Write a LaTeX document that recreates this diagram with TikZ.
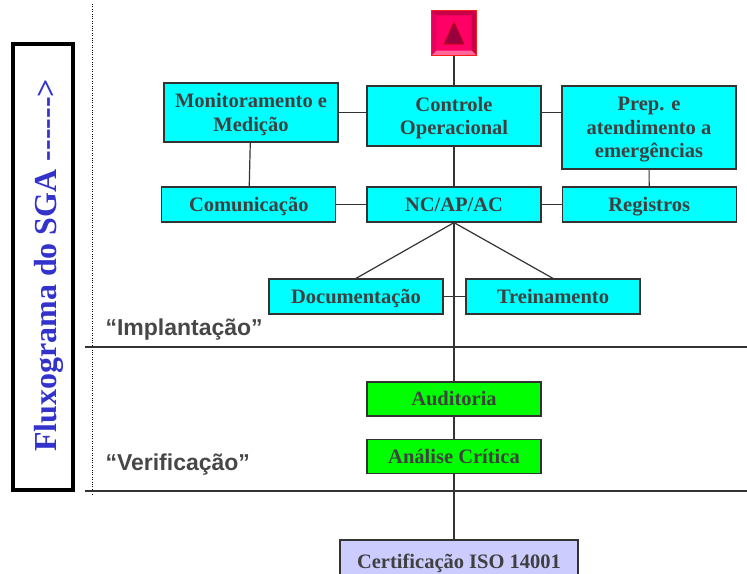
\documentclass[tikz,border=0pt]{standalone}
\usepackage{fontspec}
\setmainfont{Liberation Serif}
\setsansfont{Liberation Sans}
\usetikzlibrary{positioning}
\usetikzlibrary{calc}
\definecolor{boxcyan}{HTML}{00FFFF}
\definecolor{boxgreen}{HTML}{00FF00}
\definecolor{boxlilac}{HTML}{CCCCFF}
\definecolor{boxtext}{HTML}{404040}
\definecolor{fluxblue}{HTML}{3333CC}
\definecolor{alarmred}{HTML}{FF0066}
\definecolor{alarmdark}{HTML}{C8004A}
\definecolor{alarmlight}{HTML}{FF6699}
\definecolor{alarmtri}{HTML}{99003F}
\newcommand{\dashrun}{-{}-{}-{}-{}-{}-{}>}

\begin{document}
\begin{tikzpicture}[
    x=1pt, y=-1pt,
    stage/.style={
      rectangle,
      draw=black!80,
      line width=1.2pt,
      minimum width=174pt,
      inner sep=0pt,
      align=center,
      text depth=0pt,
      text=boxtext,
      font=\fontsize{20.5}{23.5}\selectfont\bfseries
    },
    oneline/.style={text height=13.6pt},
    link/.style={draw=black!80, line width=1.2pt},
    phase/.style={anchor=base west, text=black!72,
      font=\sffamily\bfseries\fontsize{23}{27}\selectfont}
]
  \useasboundingbox (0,0) rectangle (747,573);

  % left frame and phase separators
  \node[draw=black, line width=4pt, minimum width=446pt, minimum height=60pt,
    inner sep=0pt, rotate=90] (flux) at (43,267) {};
  \node[rotate=90, inner sep=0pt, text=fluxblue,
    font=\bfseries\fontsize{32}{36}\selectfont] (fluxtext) at (49,265.5)
    {Fluxograma do SGA \dashrun};
  \draw[dotted] (92,4) -- (92,495);
  \draw[link] (85,347) -- (747,347);
  \draw[link] (85,491) -- (747,491);
  \node[phase] (impl) at (102,335) {“Implantação”};
  \node[phase] (verif) at (102,470) {“Verificação”};

  % implantacao
  \node[stage, fill=boxcyan, minimum height=59pt] (mon) at (251,112.5)
    {Monitoramento e\\Medição};
  \node[stage, fill=boxcyan, minimum height=60pt] (ctrl) at (454,116)
    {Controle\\Operacional};
  \node[stage, fill=boxcyan, minimum height=83pt] (prep) at (649,127.5)
    {Prep. e\\atendimento a\\emergências};
  \node[stage, oneline, fill=boxcyan, minimum height=35pt] (nc) at (454,204.5) {NC/AP/AC};
  \node[stage, oneline, fill=boxcyan, minimum height=35pt, left=30pt of nc] (com) {Comunicação};
  \node[stage, oneline, fill=boxcyan, minimum height=35pt, right=20pt of nc] (reg) {Registros};
  \node[stage, oneline, fill=boxcyan, minimum height=35pt] (doc) at (356,296.5) {Documentação};
  \node[stage, oneline, fill=boxcyan, minimum height=35pt] (trein) at (553,296.5) {Treinamento};

  % verificacao
  \node[stage, oneline, fill=boxgreen, minimum height=34pt] (aud) at (454,399) {Auditoria};
  \node[stage, oneline, fill=boxgreen, minimum height=34pt, below=22pt of aud] (anal) {Análise Crítica};
  \node[stage, oneline, fill=boxlilac, minimum width=238pt, minimum height=44pt] (cert) at (459,562)
    {Certificação ISO 14001};

  % start button
  \node[minimum size=45pt, inner sep=0pt, fill=alarmred] (alarm) at (454,33) {};
  \fill[alarmdark] (alarm.north west) -- (alarm.north east)
    -- ($(alarm.north east)+(-5,5)$) -- ($(alarm.north west)+(5,5)$) -- cycle;
  \fill[alarmdark] (alarm.north east) -- (alarm.south east)
    -- ($(alarm.south east)+(-5,-5)$) -- ($(alarm.north east)+(-5,5)$) -- cycle;
  \fill[alarmred!90!black] (alarm.north west) -- (alarm.south west)
    -- ($(alarm.south west)+(5,-5)$) -- ($(alarm.north west)+(5,5)$) -- cycle;
  \fill[alarmlight] (alarm.south west) -- (alarm.south east)
    -- ($(alarm.south east)+(-5,-5)$) -- ($(alarm.south west)+(5,-5)$) -- cycle;
  \draw[red!90!white, line width=0.8pt] (alarm.north west) rectangle (alarm.south east);
  \filldraw[fill=alarmtri, draw=red!80!black, line width=0.6pt]
    ($(alarm.center)+(0,-11)$) -- ($(alarm.center)+(10,11)$)
    -- ($(alarm.center)+(-10,11)$) -- cycle;

  % connectors
  \draw[link] (alarm) -- (ctrl);
  \draw[link] (mon.east) -- (mon.east -| ctrl.west);
  \draw[link] (mon.east -| ctrl.east) -- (mon.east -| prep.west);
  \draw[link] (mon) -- (com);
  \draw[link] (prep) -- (reg);
  \draw[link] (ctrl) -- (nc);
  \draw[link] (com) -- (nc);
  \draw[link] (nc) -- (reg);
  \draw[link] (nc.south) -- (doc.north);
  \draw[link] (nc.south) -- (trein.north);
  \draw[link] (doc) -- (trein);
  \draw[link] (nc) -- (aud);
  \draw[link] (aud) -- (anal);
  \draw[link] (anal.south) -- (anal.south |- cert.north);

\end{tikzpicture}
\end{document}
